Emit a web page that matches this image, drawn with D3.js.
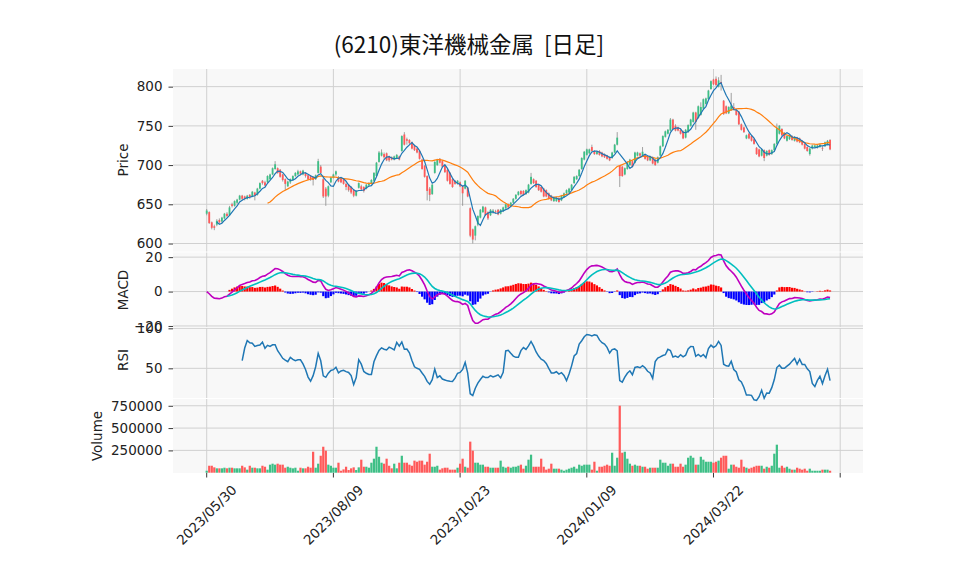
<!DOCTYPE html>
<html><head><meta charset="utf-8">
<script src="https://cdn.jsdelivr.net/npm/d3@7"></script>
<style>
html,body{margin:0;padding:0;background:#fff;}
svg text{font-family:"DejaVu Sans",sans-serif;}
</style></head>
<body><svg id="c" width="958" height="575"></svg>
<script>
const title = "(6210)東洋機械金属  [日足]";
const xTickIdx = [0, 50, 100, 150, 200, 250];
const xTickLabels = ["2023/05/30", "2023/08/09", "2023/10/23", "2024/01/09", "2024/03/22", ""];
const priceTicks = [600, 650, 700, 750, 800];
const macdTicks = [-20, 0, 20];
const rsiTicks = [50, 100];
const volTicks = [250000, 500000, 750000];

const opens = [638,640,627,622,624,630,628,632,638,636,650,648,652,656,661,660,657,662,660,665,662,670,680,678,678,682,688,695,696,694,688,682,673,678,681,686,688,692,688,690,687,686,685,682,690,698,682,670,661,678,684,688,684,683,682,676,675,672,668,661,671,673,672,670,674,676,680,686,704,712,714,715,711,710,707,709,711,718,739,733,732,729,725,721,718,707,699,686,670,663,690,700,708,705,699,694,690,682,680,676,678,673,670,671,645,618,610,624,633,640,646,640,636,640,641,643,638,641,645,650,647,652,657,662,667,667,663,665,676,682,680,675,672,670,668,664,661,654,654,658,655,659,664,665,668,677,682,686,695,707,713,715,723,718,714,718,716,714,712,710,709,716,726,699,698,688,695,700,705,703,712,715,712,713,711,706,710,707,703,712,724,736,740,744,758,750,748,745,743,735,742,750,755,767,760,764,772,778,784,797,809,810,800,806,782,775,766,770,774,770,768,752,748,734,740,737,733,722,720,712,719,712,719,714,719,727,740,746,741,731,733,737,731,735,734,731,727,723,714,721,723,722,723,722,724,726,732];
const highs = [644,641,628,624,631,632,634,639,640,648,652,655,657,662,662,661,662,663,667,666,671,678,681,680,687,689,697,705,697,695,689,683,680,683,687,691,694,693,694,691,688,687,686,688,708,700,684,672,674,685,689,693,686,684,683,678,676,673,669,668,678,675,673,676,678,682,691,704,718,720,716,716,712,711,712,714,712,738,742,735,733,730,726,722,719,708,700,687,672,676,705,708,709,706,700,695,691,683,681,681,679,674,681,672,646,619,623,636,644,648,647,641,644,644,643,644,644,647,651,651,653,658,663,667,668,668,669,676,690,683,681,676,673,671,669,665,662,660,659,659,662,665,669,671,676,686,687,695,710,718,721,721,726,719,718,719,717,715,713,711,717,727,742,700,699,697,705,708,706,717,717,716,723,714,712,712,711,708,711,725,738,744,746,760,759,752,749,746,744,746,752,759,768,768,776,780,785,786,796,808,810,813,812,815,783,776,775,792,779,771,769,753,749,739,741,738,734,723,721,721,720,719,720,720,728,753,751,747,742,738,739,738,737,736,735,732,728,724,722,726,726,726,727,724,730,732,733];
const lows = [636,625,618,617,622,625,626,631,633,635,646,647,650,655,655,655,656,657,659,655,661,669,675,673,677,681,687,694,689,684,679,668,672,676,680,685,687,687,687,684,681,680,674,681,689,689,658,648,659,677,683,686,678,677,675,668,666,663,659,660,670,667,665,669,673,675,679,685,703,711,708,705,704,706,706,708,706,717,725,726,726,720,718,715,707,694,684,655,654,662,689,699,702,697,690,679,675,671,675,675,672,648,669,659,608,600,604,622,632,639,635,630,635,638,638,636,637,640,644,645,646,651,656,661,661,661,662,664,675,676,671,667,665,659,659,656,654,653,653,652,654,658,663,664,667,676,681,685,694,706,712,714,717,713,713,712,710,709,707,705,708,715,725,672,685,687,694,699,697,702,711,711,711,707,705,705,701,699,702,711,723,735,739,743,745,743,743,739,733,734,741,749,754,745,759,763,771,777,783,796,802,801,799,795,764,765,765,769,771,763,751,744,741,733,733,730,726,713,710,711,705,711,712,713,718,726,739,737,733,730,732,731,730,729,728,725,720,717,712,720,722,721,722,718,723,725,719];
const closes = [642,626,620,620,629,627,633,638,635,646,648,654,656,661,657,657,661,659,666,661,670,677,677,674,686,688,696,701,690,685,681,676,679,682,686,690,692,689,693,686,682,682,681,687,705,690,660,660,673,684,688,692,679,678,676,672,668,665,661,667,677,669,667,675,677,681,690,703,716,716,710,706,706,707,711,713,707,737,726,731,728,721,719,716,708,695,685,667,662,675,704,707,703,698,691,680,676,672,676,680,673,664,680,660,610,605,622,635,643,647,636,632,643,642,640,637,643,646,650,646,652,657,662,666,663,662,668,675,685,677,672,668,666,660,660,657,655,659,658,653,661,664,668,670,675,685,686,694,709,717,720,720,718,714,717,713,711,710,708,706,716,726,735,686,686,696,704,707,698,716,716,712,717,708,706,711,702,700,710,724,737,743,745,758,746,744,744,740,734,745,751,758,767,755,775,774,784,785,795,807,803,802,808,804,765,766,774,776,772,764,752,745,742,738,734,731,727,714,711,720,709,718,713,719,727,747,750,738,734,737,738,732,736,730,729,726,721,718,721,725,725,725,726,721,729,731,720];
const volumes = [22000,78000,78000,60000,49000,49000,49000,56000,49000,56000,56000,49000,49000,49000,78000,60000,34000,78000,56000,56000,49000,49000,78000,67000,34000,90000,101000,90000,101000,90000,90000,56000,67000,56000,49000,56000,22000,56000,49000,49000,67000,56000,235000,56000,101000,190000,291000,247000,90000,78000,56000,56000,112000,22000,37000,67000,30000,49000,60000,30000,60000,146000,67000,67000,56000,112000,157000,291000,179000,112000,101000,157000,78000,49000,101000,49000,112000,190000,112000,112000,90000,78000,135000,123000,135000,135000,90000,123000,213000,67000,67000,78000,34000,49000,56000,56000,34000,34000,34000,56000,101000,157000,67000,56000,348000,247000,112000,112000,90000,90000,67000,67000,56000,56000,56000,56000,135000,67000,56000,67000,56000,67000,67000,78000,90000,45000,78000,146000,202000,67000,67000,67000,157000,67000,34000,45000,101000,45000,45000,45000,34000,22000,34000,45000,56000,67000,45000,90000,78000,90000,90000,90000,34000,123000,22000,67000,67000,78000,90000,78000,224000,78000,168000,751000,224000,235000,157000,101000,78000,90000,78000,78000,67000,67000,45000,56000,56000,56000,56000,146000,112000,112000,78000,101000,101000,67000,67000,101000,67000,90000,168000,190000,168000,90000,90000,179000,146000,123000,123000,123000,112000,123000,135000,168000,190000,190000,45000,90000,90000,67000,56000,146000,67000,56000,45000,56000,67000,78000,78000,78000,45000,67000,56000,78000,213000,314000,56000,78000,56000,67000,45000,34000,34000,56000,45000,34000,45000,22000,45000,22000,22000,22000,22000,34000,34000,34000,22000];

const UP = "#3dbf86", DOWN = "#ff5a5a", WICK = "#8a8a8a";
const N = closes.length;

// indicators
function sma(arr, n){ return arr.map((v,i)=> i>=n-1 ? d3.mean(arr.slice(i-n+1,i+1)) : null); }
function ema(arr, n){ const a = 2/(n+1); const out=[]; arr.forEach((v,i)=>{ out.push(i===0? v : a*v+(1-a)*out[i-1]); }); return out; }
const ma5 = sma(closes,5), ma25 = sma(closes,25);
const e12 = ema(closes,12), e26 = ema(closes,26);
const macd = e12.map((v,i)=>v-e26[i]);
const sig = ema(macd,9);
const hist = macd.map((v,i)=>v-sig[i]);
const rsi = closes.map((c,i)=>{
  if(i<14) return null;
  let g=0,l=0;
  for(let k=i-13;k<=i;k++){ const d=closes[k]-closes[k-1]; if(d>0) g+=d; else l-=d; }
  return g+l===0?50:100*g/(g+l);
});

const svg = d3.select("#c");
const X0=173, X1=863;
const x = d3.scaleLinear().domain([-13.3, 259]).range([X0, X1]);
const step = x(1)-x(0);

const panels = {
  price:{top:69, bot:251.5},
  macd:{top:252.5, bot:327},
  rsi:{top:328, bot:398},
  vol:{top:399, bot:473}
};
const yP = d3.scaleLinear().domain([589.8, 822.5]).range([panels.price.bot, panels.price.top]);
const yM = d3.scaleLinear().domain([-20.6, 22.7]).range([panels.macd.bot, panels.macd.top]);
const yR = d3.scaleLinear().domain([12.9, 100.4]).range([panels.rsi.bot, panels.rsi.top]);
const yV = d3.scaleLinear().domain([0, 826000]).range([472.7, panels.vol.top]);

// backgrounds
Object.values(panels).forEach(p=>{
  svg.append("rect").attr("x",X0).attr("y",p.top).attr("width",X1-X0).attr("height",p.bot-p.top).attr("fill","#f8f8f8");
});

// grids & axes
function panelAxis(p, y, ticks, fmt){
  const g = svg.append("g");
  const clip = ticks.filter(t=>y(t)>=p.top-4 && y(t)<=p.bot+4);
  g.selectAll("line.h").data(clip).join("line")
    .attr("x1",X0).attr("x2",X1).attr("y1",d=>y(d)).attr("y2",d=>y(d))
    .attr("stroke","#d0d0d0").attr("stroke-width",1);
  g.selectAll("line.v").data(xTickIdx).join("line")
    .attr("x1",d=>x(d)).attr("x2",d=>x(d)).attr("y1",p.top).attr("y2",p.bot)
    .attr("stroke","#d0d0d0").attr("stroke-width",1);
  const ax = svg.append("g").attr("transform",`translate(${X0},0)`)
    .call(d3.axisLeft(y).tickValues(clip).tickSize(4.5).tickPadding(6).tickFormat(fmt));
  ax.select(".domain").remove();
  ax.selectAll(".tick line").attr("stroke","#222").attr("stroke-width",0.9);
  ax.selectAll("text").attr("font-size","13.5px").attr("fill","#222").attr("font-family","DejaVu Sans");
}
panelAxis(panels.price, yP, priceTicks, d=>String(d));
panelAxis(panels.macd, yM, macdTicks, d=> d<0 ? "\u2212"+Math.abs(d) : String(d));
panelAxis(panels.rsi, yR, rsiTicks, d=>String(d));
panelAxis(panels.vol, yV, volTicks, d=>String(d));

// y labels
const ylabels = [["Price",123,160],["MACD",123,290],["RSI",123,360],["Volume",97,436]];
ylabels.forEach(([t,lx,ly])=>{
  svg.append("text").attr("transform",`translate(${lx},${ly}) rotate(-90)`)
    .attr("text-anchor","middle").attr("dy","0.35em").attr("font-size","13.5px").attr("fill","#222").text(t);
});

// x ticks
const xt = svg.append("g");
xt.selectAll("line").data(xTickIdx).join("line")
  .attr("x1",d=>x(d)).attr("x2",d=>x(d)).attr("y1",473).attr("y2",477.5)
  .attr("stroke","#222").attr("stroke-width",0.9);
xt.selectAll("text").data(xTickIdx).join("text")
  .attr("transform",(d)=>`translate(${x(d)},515) rotate(-45)`)
  .attr("text-anchor","middle").attr("dy","0.35em").attr("font-size","13.5px").attr("fill","#222")
  .text((d,i)=>xTickLabels[i]);

// candles
const idx = d3.range(N);
const cg = svg.append("g");
cg.selectAll("line").data(idx).join("line")
  .attr("x1",i=>x(i)).attr("x2",i=>x(i)).attr("y1",i=>yP(highs[i])).attr("y2",i=>yP(lows[i]))
  .attr("stroke",WICK).attr("stroke-width",0.8);
const bw = step*0.72;
cg.selectAll("rect").data(idx).join("rect")
  .attr("x",i=>x(i)-bw/2).attr("width",bw)
  .attr("y",i=>yP(Math.max(opens[i],closes[i])))
  .attr("height",i=>Math.max(0.8, Math.abs(yP(opens[i])-yP(closes[i]))))
  .attr("fill",i=>closes[i]>=opens[i]?UP:DOWN);

const line = (y)=>d3.line().defined(d=>d[1]!==null).x(d=>x(d[0])).y(d=>y(d[1]));
svg.append("path").datum(ma25.map((v,i)=>[i,v])).attr("d",line(yP)).attr("fill","none").attr("stroke","#ff7f0e").attr("stroke-width",1.2);
svg.append("path").datum(ma5.map((v,i)=>[i,v])).attr("d",line(yP)).attr("fill","none").attr("stroke","#1f77b4").attr("stroke-width",1.2);

// MACD
const mg = svg.append("g");
const hbw = step*0.85;
mg.selectAll("rect").data(idx.filter(i=>i>=8)).join("rect")
  .attr("x",i=>x(i)-hbw/2).attr("width",hbw)
  .attr("y",i=>Math.min(yM(0),yM(hist[i]))).attr("height",i=>Math.abs(yM(hist[i])-yM(0)))
  .attr("fill",i=>hist[i]>=0?"#ff0000":"#0000ff");
svg.append("path").datum(macd.map((v,i)=>[i,v])).attr("d",line(yM)).attr("fill","none").attr("stroke","#bf00bf").attr("stroke-width",1.6);
svg.append("path").datum(sig.map((v,i)=>[i,i>=8?v:null])).attr("d",line(yM)).attr("fill","none").attr("stroke","#00bfbf").attr("stroke-width",1.6);

// RSI
svg.append("path").datum(rsi.map((v,i)=>[i,v])).attr("d",line(yR)).attr("fill","none").attr("stroke","#1f77b4").attr("stroke-width",1.5);

// Volume
const vbw = step*0.88;
svg.append("g").selectAll("rect").data(idx).join("rect")
  .attr("x",i=>x(i)-vbw/2).attr("width",vbw)
  .attr("y",i=>yV(volumes[i])).attr("height",i=>yV(0)-yV(volumes[i]))
  .attr("fill",i=>closes[i]>=opens[i]?UP:DOWN);

// title
svg.append("text").attr("x",469).attr("y",53).attr("text-anchor","middle")
  .attr("font-size","22.5px").attr("fill","#111")
  .style("font-family","'Noto Sans CJK JP'").style("white-space","pre")
  .attr("xml:space","preserve").text(title);
</script></body></html>
